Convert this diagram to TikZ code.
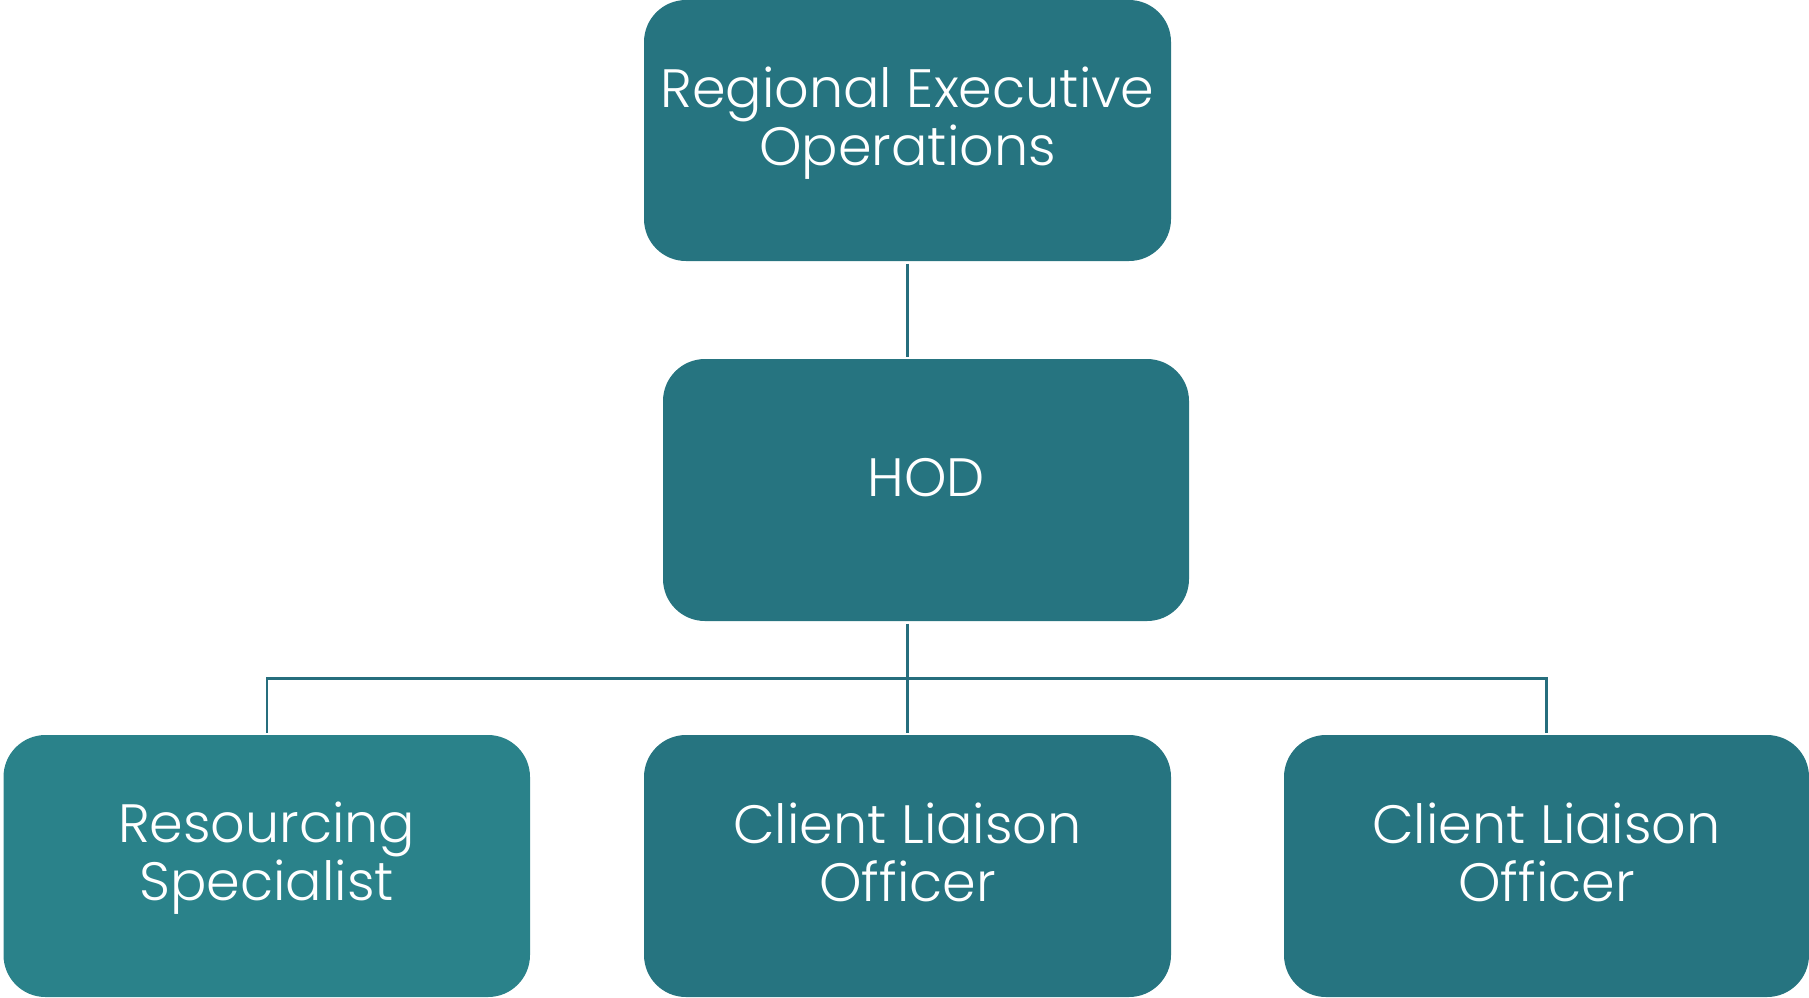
\documentclass[tikz,border=0pt]{standalone}
\usepackage{fontspec}
\setmainfont{Poppins Light}
\definecolor{boxdark}{RGB}{38,116,128}
\definecolor{boxlight}{RGB}{42,130,138}
\definecolor{linecol}{RGB}{38,110,125}
\newcommand{\tst}{\rule{0pt}{40pt}}
\newcommand{\bst}{\rule[-12pt]{0pt}{12pt}}
\tikzset{
  orgbox/.style={fill=boxdark, draw=none, rounded corners=42pt, inner sep=0pt},
  orgtext/.style={text=white, align=center, inner sep=0pt, font=\fontsize{54}{58}\selectfont, yshift=7.5pt},
  conn/.style={draw=linecol, line width=2.5pt, shorten <=2.5pt, shorten >=2.5pt},
}
\begin{document}
\begin{tikzpicture}[x=1pt,y=-1pt]
\useasboundingbox (0,0) rectangle (1809,997);
% boxes
\path[orgbox] (644,0) rectangle (1171,261) coordinate[pos=0.5] (topc);
\path[orgbox] (663,359) rectangle (1189,621) coordinate[pos=0.5] (hodc);
\path[orgbox, fill=boxlight] (3.5,735) rectangle (530,997) coordinate[pos=0.5] (leftc);
\path[orgbox] (644,735) rectangle (1171,997) coordinate[pos=0.5] (midc);
\path[orgbox] (1284,735) rectangle (1809,997) coordinate[pos=0.5] (rightc);
% texts
\node[orgtext] (top) at (topc) {\tst Regional Executive\\Operations\bst};
\node[orgtext] (hod) at (hodc) {\tst HOD\bst};
\node[orgtext] (left) at (leftc) {\tst Resourcing\\Specialist\bst};
\node[orgtext] (mid) at (midc) {\tst Client Liaison\\Officer\bst};
\node[orgtext] (right) at (rightc) {\tst Client Liaison\\Officer\bst};
% connector anchor points
\coordinate (topS) at (907.5,261);
\coordinate (hodN) at (907.5,359);
\coordinate (hodS) at (907.5,621);
\coordinate (midN) at (907.5,735);
\coordinate (leftN) at (267,735);
\coordinate (rightN) at (1546.5,735);
\coordinate (bar) at (907.5,678.5);
\draw[conn] (topS) -- (hodN);
\draw[conn] (hodS) -- (midN);
\draw[conn] (leftN) |- (bar) -| (rightN);
\end{tikzpicture}
\end{document}
